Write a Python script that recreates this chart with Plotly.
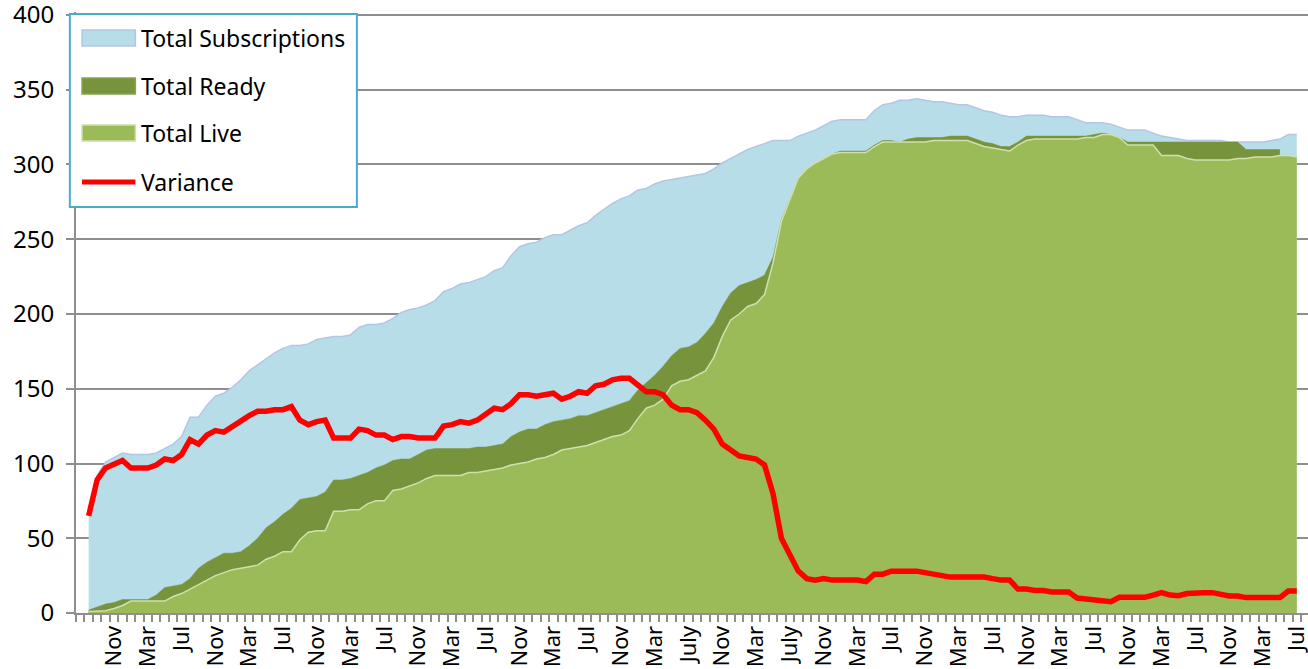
import plotly.graph_objects as go

# Valeurs mensuelles (144 points)
total_subscriptions = [
    66, 92, 101, 104, 107, 106, 106, 106, 107, 110, 113, 118, 131, 131, 139, 145,
    147, 151, 156, 162, 166, 170, 174, 177, 179, 179, 180, 183, 184, 185, 185, 186,
    191, 193, 193, 194, 197, 201, 203, 204, 206, 209, 215, 217, 220, 221, 223, 225,
    229, 231, 239, 245, 247, 248, 251, 253, 253, 256, 259, 261, 266, 270, 274, 277,
    279, 283, 284, 287, 289, 290, 291, 292, 293, 294, 297, 301, 304, 307, 310, 312,
    314, 316, 316, 316, 319, 321, 323, 326, 329, 330, 330, 330, 330, 336, 340, 341,
    343, 343, 344, 343, 342, 342, 341, 340, 340, 338, 336, 335, 333, 332, 332, 333,
    333, 333, 332, 332, 332, 330, 328, 328, 328, 327, 325, 323, 323, 323, 321, 319,
    318, 317, 316, 316, 316, 316, 316, 315, 315, 315, 315, 315, 316, 317, 320, 320,
]

total_ready = [
    2, 4, 6, 7, 9, 9, 9, 9, 12, 17, 18, 19, 23, 30, 34, 37,
    40, 40, 41, 45, 50, 57, 61, 66, 70, 76, 77, 78, 81, 89, 89, 90,
    92, 94, 97, 99, 102, 103, 103, 106, 109, 110, 110, 110, 110, 110, 111, 111,
    112, 113, 118, 121, 123, 123, 126, 128, 129, 130, 132, 132, 134, 136, 138, 140,
    142, 149, 154, 159, 165, 172, 177, 178, 181, 187, 194, 205, 214, 219, 221, 223,
    226, 238, 263, 277, 291, 297, 301, 304, 307, 309, 309, 309, 309, 313, 316, 316,
    315, 317, 318, 318, 318, 318, 319, 319, 319, 317, 315, 314, 312, 312, 315, 319,
    319, 319, 319, 319, 319, 319, 319, 320, 321, 320, 318, 315, 315, 315, 315, 315,
    315, 315, 315, 315, 315, 315, 315, 315, 315, 310, 310, 310, 310, 310,
]

total_live = [
    1, 1, 1.5, 3, 5, 8, 8, 8, 8, 8, 11, 13, 16, 19, 22, 25,
    27, 29, 30, 31, 32, 36, 38, 41, 41, 49, 54, 55, 55, 68, 68, 69,
    69, 73, 75, 75, 82, 83, 85, 87, 90, 92, 92, 92, 92, 94, 94, 95,
    96, 97, 99, 100, 101, 103, 104, 106, 109, 110, 111, 112, 114, 116, 118, 119,
    122, 130, 137, 139, 143, 152, 155, 156, 159, 162, 171, 185, 196, 200, 205, 207,
    213, 234, 262, 276, 291, 297, 301, 304, 307, 308, 308, 308, 308, 312, 315, 315,
    315, 315, 315, 315, 316, 316, 316, 316, 316, 314, 312, 311, 310, 309, 313, 316,
    317, 317, 317, 317, 317, 317, 318, 318, 320, 320, 318, 313, 313, 313, 313, 306,
    306, 306, 304, 303, 303, 303, 303, 303, 304, 304, 305, 305, 305, 306, 306, 305,
]

variance = [
    65, 89, 97, 100, 102, 97, 97, 97, 99, 103, 102, 106, 116, 113, 119, 122,
    121, 125, 129, 132, 135, 135, 136, 136, 138, 129, 126, 128, 129, 117, 117, 117,
    123, 122, 119, 119, 116, 118, 118, 117, 117, 117, 125, 126, 128, 127, 129, 133,
    137, 136, 140, 146, 146, 145, 146, 147, 143, 145, 148, 147, 152, 153, 156, 157,
    157, 153, 148, 148, 146, 139, 136, 136, 134, 129, 123, 113, 109, 105, 104, 103,
    99, 80, 50, 38, 28, 23, 22, 23, 22, 22, 22, 22, 21, 26, 26, 28,
    28, 28, 28, 27, 26, 25, 24, 24, 24, 24, 24, 23, 22, 22, 16, 16,
    15, 15, 14, 14, 14, 10, 9.5, 8.5, 8, 7.6, 10.5, 10.5, 10.5, 10.5, 12, 13.6,
    12, 11.6, 13, 13.6, 13.6, 13.6, 12.5, 11.4, 11.4, 10.3, 10.3, 10.3, 10.3, 10.3, 14.7, 14.7,
]

# Etiquettes de l'axe X (une tous les 4 mois)
month_labels = [
    "Nov", "Mar", "Jul", "Nov", "Mar", "Jul", "Nov", "Mar", "Jul",
    "Nov", "Mar", "Jul", "Nov", "Mar", "Jul", "Nov", "Mar", "July",
    "Nov", "Mar", "July", "Nov", "Mar", "Jul", "Nov", "Mar", "Jul",
    "Nov", "Mar", "Jul", "Nov", "Mar", "Jul", "Nov", "Mar", "Jul",
]

x = list(range(1, len(total_subscriptions) + 1))
label_pos = [4 * (k + 1) for k in range(len(month_labels))]

BLUE = "#b7dde8"
BLUE_EDGE = "#b4c6e4"
READY = "#77933c"
LIVE = "#9bbb59"
LIVE_EDGE = "#d0e0ad"
RED = "#ff0000"
GRID = "#8e8e8e"
FONT = "Noto Sans"

fig = go.Figure()

fig.add_trace(go.Scatter(
    x=x, y=total_subscriptions, name="Total Subscriptions",
    mode="lines", fill="tozeroy", fillcolor=BLUE,
    line=dict(color=BLUE_EDGE, width=1.5)
))
fig.add_trace(go.Scatter(
    x=x, y=total_ready, name="Total Ready",
    mode="lines", fill="tozeroy", fillcolor=READY,
    line=dict(color=READY, width=0.5)
))
fig.add_trace(go.Scatter(
    x=x, y=total_live, name="Total Live",
    mode="lines", fill="tozeroy", fillcolor=LIVE,
    line=dict(color=LIVE_EDGE, width=1.5)
))
fig.add_trace(go.Scatter(
    x=x, y=variance, name="Variance",
    mode="lines", line=dict(color=RED, width=5.5)
))

# Légende dessinée à la main (cadre, pastilles, textes)
# coordonnées "paper" : y = 0 à l'axe X, y = 1 en haut de la zone de tracé
shapes = [
    dict(type="rect", xref="paper", yref="paper", x0=-0.005, x1=0.228, y0=0.6755, y1=0.9967,
         line=dict(color="#4bacc6", width=2), fillcolor="white", layer="above"),
]
legend_items = [
    ("Total Subscriptions", BLUE, BLUE_EDGE, 0.9567),
    ("Total Ready", READY, "#8aa34f", 0.8769),
    ("Total Live", LIVE, LIVE_EDGE, 0.7987),
]
annotations = []
for name, fill, edge, yc in legend_items:
    shapes.append(dict(type="rect", xref="paper", yref="paper",
                       x0=0.0049, x1=0.0482, y0=yc - 0.0133, y1=yc + 0.0133,
                       line=dict(color=edge, width=1.5), fillcolor=fill, layer="above"))
    annotations.append(dict(text=name, xref="paper", yref="paper", x=0.0515, y=yc,
                            xanchor="left", yanchor="middle", showarrow=False,
                            font=dict(family=FONT, size=23, color="black")))
shapes.append(dict(type="line", xref="paper", yref="paper", x0=0.0049, x1=0.0482,
                   y0=0.7171, y1=0.7171, line=dict(color=RED, width=5), layer="above"))
annotations.append(dict(text="Variance", xref="paper", yref="paper", x=0.0515, y=0.7171,
                        xanchor="left", yanchor="middle", showarrow=False,
                        font=dict(family=FONT, size=23, color="black")))

fig.update_layout(
    width=1308, height=669,
    margin=dict(l=76, r=0, t=12, b=56),
    paper_bgcolor="white", plot_bgcolor="white",
    showlegend=False,
    shapes=shapes,
    annotations=annotations,
    font=dict(family=FONT, color="black"),
    xaxis=dict(
        range=[-0.5, 145.33], automargin=False,
        tickmode="array", tickvals=label_pos, ticktext=month_labels,
        tickangle=-90, ticks="", ticklabelstandoff=2,
        ticklabeloverflow="allow",
        tickfont=dict(family=FONT, size=22, color="black"),
        showgrid=False, zeroline=False,
        showline=True, linecolor=GRID, linewidth=2,
        minor=dict(tick0=-0.5, dtick=1, ticks="outside", ticklen=7,
                   tickcolor=GRID, tickwidth=1.5, showgrid=False),
    ),
    yaxis=dict(
        range=[0, 402], automargin=False,
        tickvals=list(range(0, 401, 50)),
        ticks="outside", ticklen=8, tickcolor=GRID, tickwidth=2,
        ticklabelstandoff=7, ticklabeloverflow="allow",
        tickfont=dict(family=FONT, size=24, color="black"),
        showgrid=True, gridcolor=GRID, gridwidth=2,
        zeroline=False, showline=True, linecolor=GRID, linewidth=2,
    ),
)

# pas de marge de page autour du graphique, pas de barre d'outils
fig.write_html("out.html", config={"displayModeBar": False},
               post_script="document.body.style.margin = '0';")
